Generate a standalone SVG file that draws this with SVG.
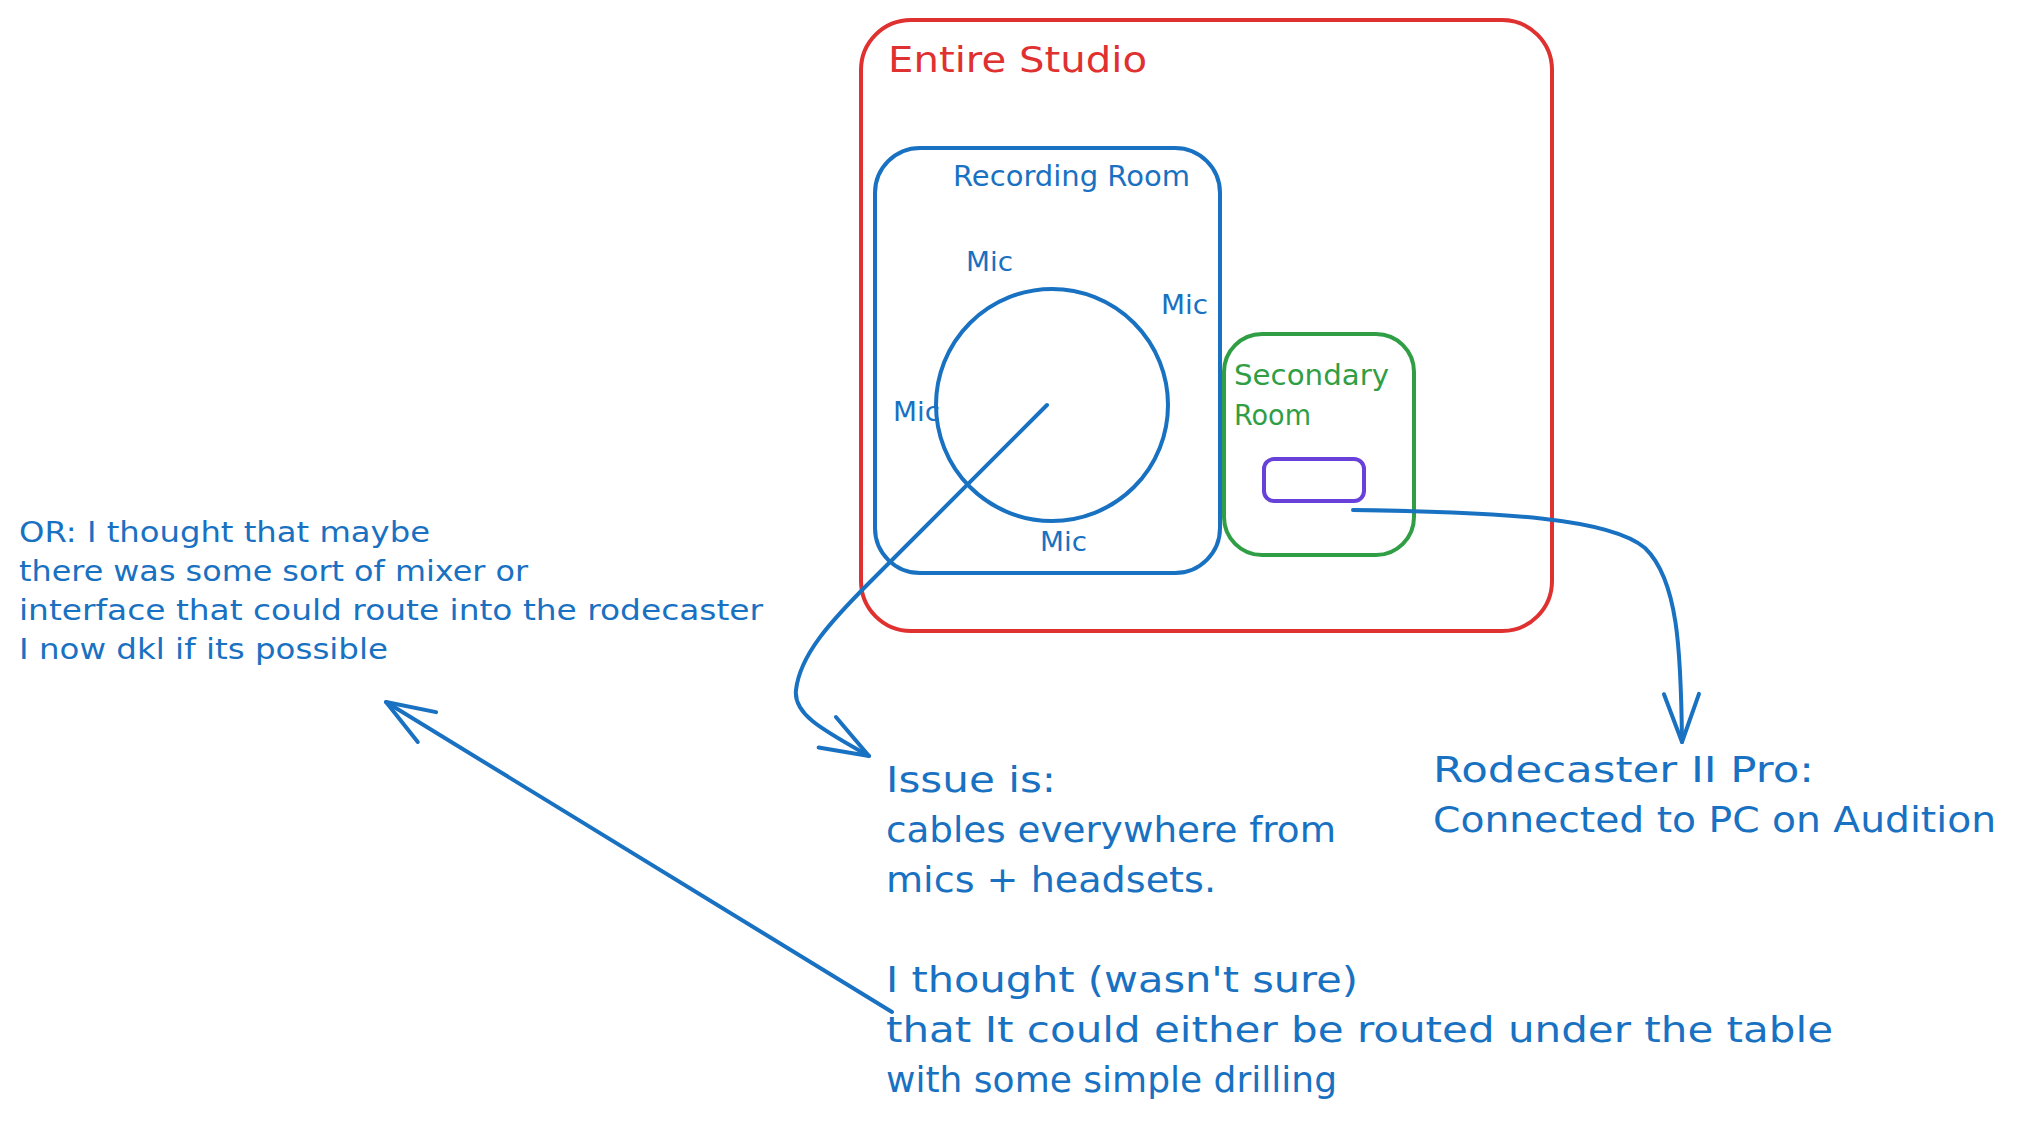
<svg xmlns="http://www.w3.org/2000/svg" width="2020" height="1126" viewBox="0 0 2020 1126">
<style>
.t{font-family:"DejaVu Sans","Liberation Sans",sans-serif;}
.blue{fill:#1971c2;}
.red{fill:#e03131;}
.green{fill:#2f9e44;}
.box{fill:none;stroke-width:4;}
.conn{fill:none;stroke:#1971c2;stroke-width:4;stroke-linecap:round;stroke-linejoin:round;}
</style>
<defs>
<marker id="ah" markerUnits="userSpaceOnUse" markerWidth="60" markerHeight="60" viewBox="-55 -30 60 60" refX="0" refY="0" orient="auto">
<path d="M-48,-17.5 L0,0 L-48,17.5" fill="none" stroke="#1971c2" stroke-width="4" stroke-linecap="round" stroke-linejoin="round"/>
</marker>
</defs>
<rect width="2020" height="1126" fill="#ffffff"/>
<g id="entire-studio">
<rect class="box" x="861" y="20" width="691" height="611" rx="50" stroke="#e03131"/>
<text class="t red" x="888" y="72" font-size="36" textLength="259" lengthAdjust="spacingAndGlyphs">Entire Studio</text>
</g>
<g id="recording-room">
<rect class="box" x="875" y="148" width="345" height="425" rx="45" stroke="#1971c2"/>
<text class="t blue" x="953" y="186" font-size="28" textLength="237" lengthAdjust="spacingAndGlyphs">Recording Room</text>
</g>
<g id="table">
<circle class="box" cx="1052" cy="405" r="116" stroke="#1971c2"/>
</g>
<g id="mic-top"><text class="t blue" x="966" y="271" font-size="27" textLength="47" lengthAdjust="spacingAndGlyphs">Mic</text></g>
<g id="mic-right"><text class="t blue" x="1161" y="314" font-size="27" textLength="47" lengthAdjust="spacingAndGlyphs">Mic</text></g>
<g id="mic-left"><text class="t blue" x="893" y="421" font-size="27" textLength="47" lengthAdjust="spacingAndGlyphs">Mic</text></g>
<g id="mic-bottom"><text class="t blue" x="1040" y="551" font-size="27" textLength="47" lengthAdjust="spacingAndGlyphs">Mic</text></g>
<g id="secondary-room">
<rect class="box" x="1224" y="334" width="190" height="221" rx="38" stroke="#2f9e44"/>
<text class="t green" x="1234" y="385" font-size="28" textLength="155" lengthAdjust="spacingAndGlyphs">Secondary</text>
<text class="t green" x="1234" y="425" font-size="28" textLength="77" lengthAdjust="spacingAndGlyphs">Room</text>
</g>
<g id="rodecaster-box">
<rect class="box" x="1264" y="459" width="100" height="42" rx="10" stroke="#6741d9"/>
</g>
<g id="note-or">
<text class="t blue" font-size="28">
<tspan x="19" y="542" textLength="411" lengthAdjust="spacingAndGlyphs">OR: I thought that maybe</tspan>
<tspan x="19" y="581" textLength="509" lengthAdjust="spacingAndGlyphs">there was some sort of mixer or</tspan>
<tspan x="19" y="620" textLength="744" lengthAdjust="spacingAndGlyphs">interface that could route into the rodecaster</tspan>
<tspan x="19" y="659" textLength="369" lengthAdjust="spacingAndGlyphs">I now dkl if its possible</tspan>
</text>
</g>
<g id="note-issue">
<text class="t blue" font-size="36">
<tspan x="886" y="792" textLength="170" lengthAdjust="spacingAndGlyphs">Issue is:</tspan>
<tspan x="886" y="842" textLength="450" lengthAdjust="spacingAndGlyphs">cables everywhere from</tspan>
<tspan x="886" y="892" textLength="330" lengthAdjust="spacingAndGlyphs">mics + headsets.</tspan>
<tspan x="886" y="992" textLength="472" lengthAdjust="spacingAndGlyphs">I thought (wasn't sure)</tspan>
<tspan x="886" y="1042" textLength="947" lengthAdjust="spacingAndGlyphs">that It could either be routed under the table</tspan>
<tspan x="886" y="1092" textLength="451" lengthAdjust="spacingAndGlyphs">with some simple drilling</tspan>
</text>
</g>
<g id="note-rodecaster">
<text class="t blue" font-size="36">
<tspan x="1433" y="782" textLength="381" lengthAdjust="spacingAndGlyphs">Rodecaster II Pro:</tspan>
<tspan x="1433" y="832" textLength="563" lengthAdjust="spacingAndGlyphs">Connected to PC on Audition</tspan>
</text>
</g>
<g id="connectors">
<path class="conn" d="M1047,405 L870,582 C830,622 800,655 796,690 C793,715 825,731 869,756" marker-end="url(#ah)"/>
<path class="conn" d="M1353,510 C1500,512 1610,518 1645,548 C1678,580 1681,650 1682,742" marker-end="url(#ah)"/>
<path class="conn" d="M892,1012 L386,702" marker-end="url(#ah)"/>
</g>
</svg>
